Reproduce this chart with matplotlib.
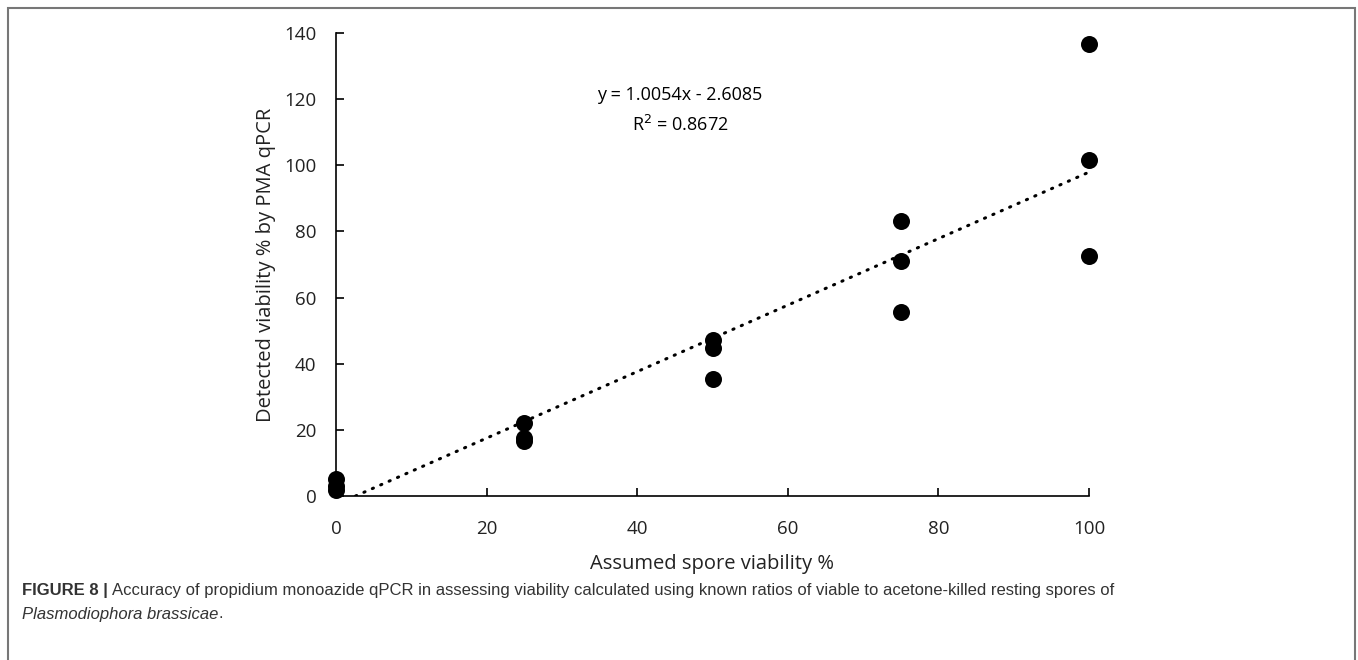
import matplotlib.pyplot as plt
import numpy as np
from matplotlib.patches import Rectangle

# Assumed vs detected viability
assumed = [0, 0, 0, 25, 25, 25, 50, 50, 50, 75, 75, 75, 100, 100, 100]
detected = [5.2, 3.0, 1.8, 22.2, 17.6, 16.5, 47.2, 44.9, 35.5, 83.2, 71.2, 55.5, 136.6, 101.6, 72.7]

slope = 1.0054
intercept = -2.6085
r_squared = 0.8672

x_ticks = [0, 20, 40, 60, 80, 100]
y_ticks = [0, 20, 40, 60, 80, 100, 120, 140]

fig = plt.figure(figsize=(13.58, 6.6), dpi=100)
ax = fig.add_axes([336 / 1358, 1 - 496 / 660, (1089 - 336) / 1358, (496 - 33) / 660])

ax.scatter(assumed, detected, s=150, color='black', zorder=3, clip_on=False, linewidths=0)

# linear trendline from the x-intercept to 100
x0 = -intercept / slope
xs = np.array([x0, 100])
ax.plot(xs, slope * xs + intercept, color='black', linewidth=2.2,
        linestyle=(0, (0.4, 2.6)), dash_capstyle='round')

ax.text(45.7, 121.3, f'y = {slope}x - {abs(intercept)}', ha='center', va='center',
        fontsize=13, family='Open Sans')
ax.text(45.7, 112.3, f'R$^2$ = {r_squared}', ha='center', va='center',
        fontsize=13, family='Open Sans')

ax.set_xlim(0, 100)
ax.set_ylim(0, 140)
ax.set_xticks(x_ticks)
ax.set_yticks(y_ticks)
ax.tick_params(direction='in', length=6, width=1.2, labelsize=13.5)
ax.tick_params(axis='x', pad=17)
ax.tick_params(axis='y', pad=14)
for lbl in ax.get_xticklabels() + ax.get_yticklabels():
    lbl.set_family('Open Sans')
    lbl.set_color('#222222')
for side in ['top', 'right']:
    ax.spines[side].set_visible(False)
for side in ['left', 'bottom']:
    ax.spines[side].set_linewidth(1.2)

ax.set_xlabel('Assumed spore viability %', fontsize=14.5, family='Open Sans', labelpad=12,
              color='#222222')
ax.set_ylabel('Detected viability % by PMA qPCR', fontsize=14.5, family='Open Sans', labelpad=6,
              color='#222222')

# frame around figure
fig.patches.append(Rectangle((8 / 1358, -0.01), (1355 - 8) / 1358, 1 - 8 / 660 + 0.01,
                             transform=fig.transFigure, fill=False,
                             edgecolor='#777777', linewidth=1.5))

# caption: bold label, then regular text placed after it
cap_y1 = 1 - 591 / 660
cap_y2 = 1 - 614 / 660
cap_color = '#333333'
t_bold = fig.text(22 / 1358, cap_y1, 'FIGURE 8 | ', fontsize=12, fontweight='bold',
                  family='Liberation Sans', color=cap_color, va='center')
fig.canvas.draw()
bb = t_bold.get_window_extent()
fig.text(bb.x1 / 1358, cap_y1,
         'Accuracy of propidium monoazide qPCR in assessing viability calculated using known '
         'ratios of viable to acetone-killed resting spores of',
         fontsize=12, family='Liberation Sans', color=cap_color, va='center')
t_it = fig.text(22 / 1358, cap_y2, 'Plasmodiophora brassicae', fontsize=12, style='italic',
                family='Liberation Sans', color=cap_color, va='center')
fig.canvas.draw()
bb2 = t_it.get_window_extent()
fig.text(bb2.x1 / 1358, cap_y2, '.', fontsize=12, family='Liberation Sans',
         color=cap_color, va='center')

fig.savefig('out.png', dpi=100)
